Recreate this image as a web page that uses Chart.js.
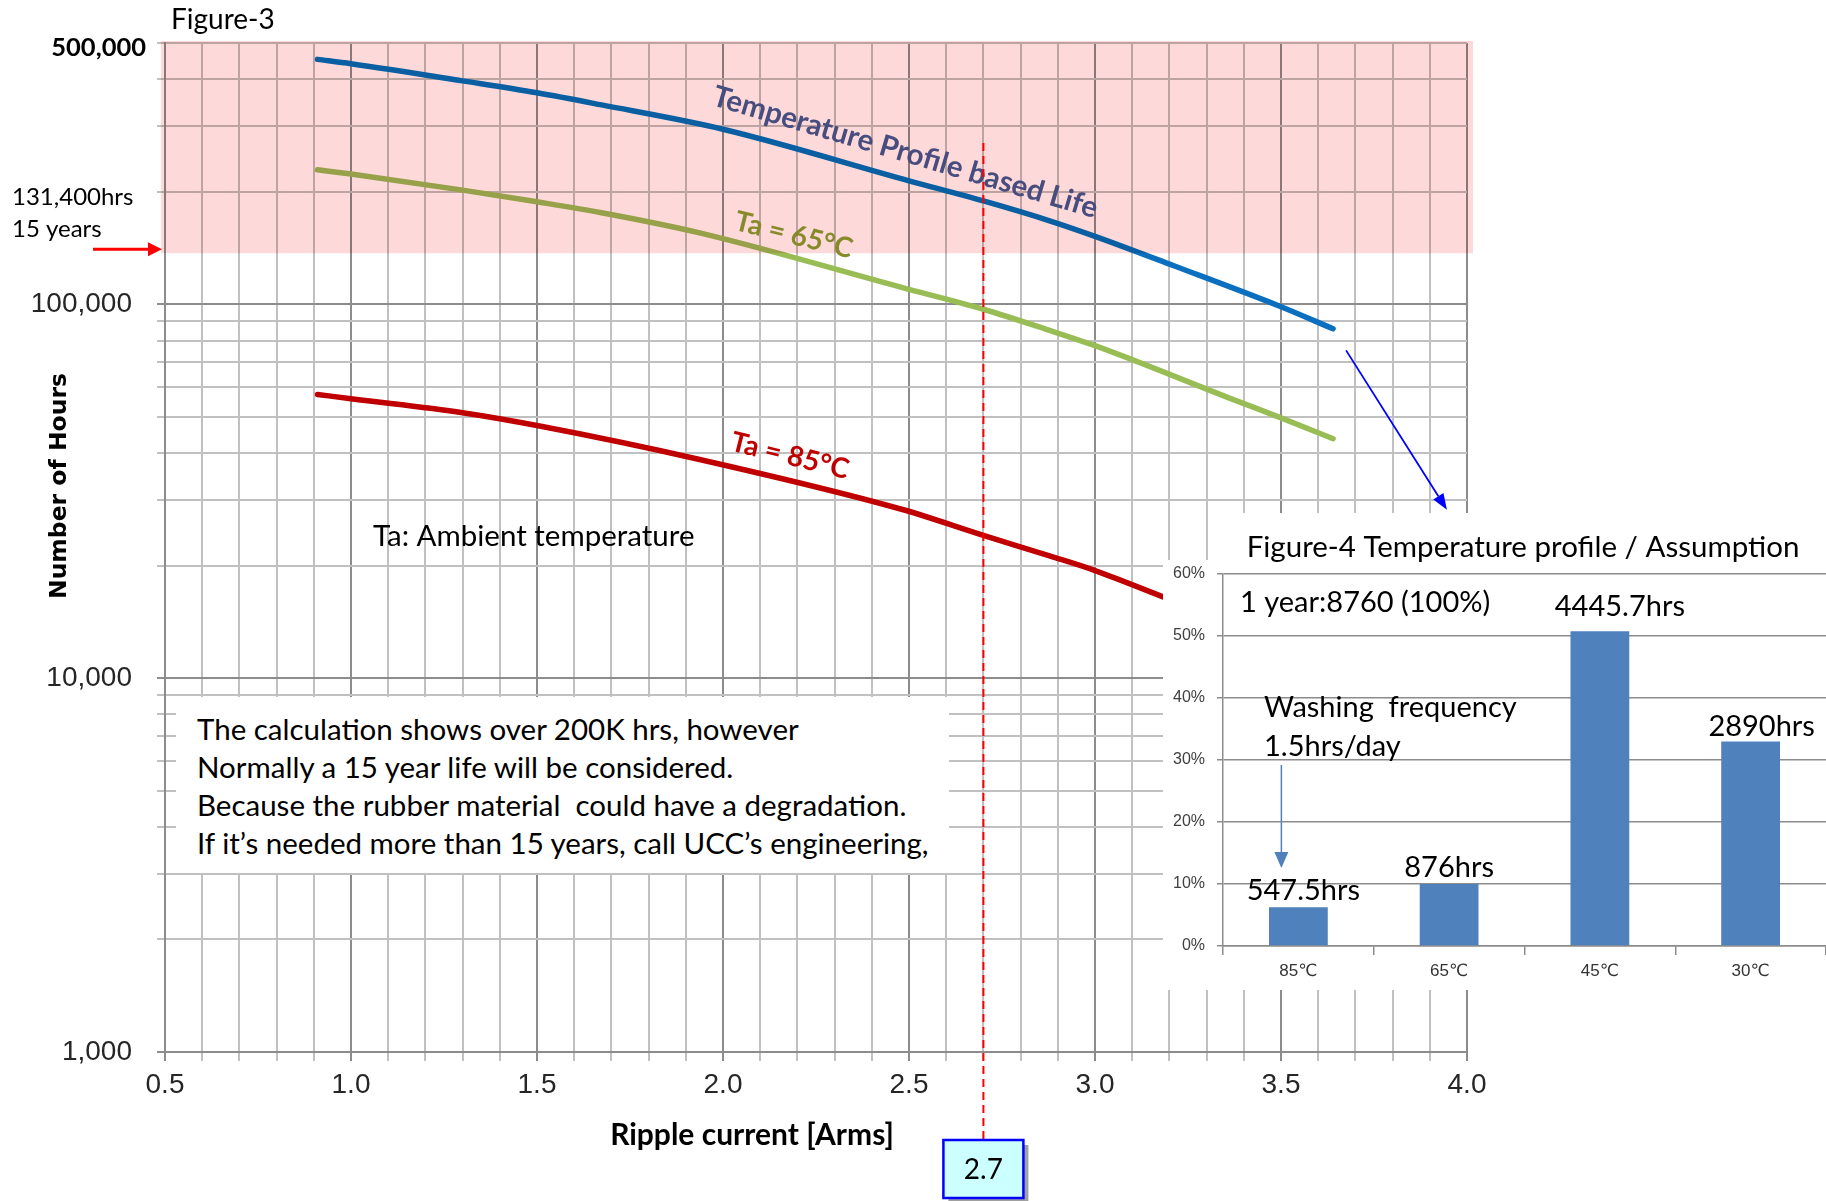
<!DOCTYPE html>
<html>
<head>
<meta charset="utf-8">
<script src="https://cdn.jsdelivr.net/npm/chart.js@4.4.1/dist/chart.umd.min.js"></script>
<style>
body { margin: 0; background: #fff; }
#wrap { position: relative; width: 1826px; height: 1201px; overflow: hidden; }
#main { position: absolute; left: 0; top: 0; }
#inset { position: absolute; left: 1163px; top: 513px; }
#note {
    position: absolute; left: 176px; top: 697px; width: 773px; height: 176px;
    box-sizing: border-box; padding: 13px 0 0 21px; background: #fff;
    font-family: Lato, sans-serif; font-size: 29.5px; line-height: 38px; color: #000;
    white-space: pre;
}
</style>
</head>
<body>
<div id="wrap">
<canvas id="main" width="1826" height="1201"></canvas>
<div id="note">The calculation shows over 200K hrs, however
Normally a 15 year life will be considered.
Because the rubber material  could have a degradation.
If it’s needed more than 15 years, call UCC’s engineering,</div>
<canvas id="inset" width="663" height="477"></canvas>
</div>
<script>
// Figure-3: life curves (ripple current [Arms] -> hours)
var rippleProfile = [0.91, 1.0, 1.3, 1.5, 1.67, 2.0, 2.5, 2.7, 2.88, 3.0, 3.21, 3.5, 3.64];
var hoursProfile = [452000, 440000, 396000, 368000, 342000, 294000, 214000, 189000, 167000, 152000, 127000, 98500, 86000];
var ripple65 = [0.91, 1.0, 1.3, 1.5, 1.67, 1.94, 2.48, 2.7, 2.88, 3.0, 3.37, 3.5, 3.64];
var hours65 = [229000, 223000, 202000, 188000, 176000, 155000, 111000, 97000, 85000, 77500, 55700, 49700, 43700];
var ripple85 = [0.91, 1.0, 1.3, 1.5, 1.94, 2.48, 2.7, 2.88, 3.0, 3.19];
var hours85 = [57400, 55900, 51300, 47400, 38400, 28300, 24100, 21200, 19400, 16400];

var yGridValues = [1000, 2000, 3000, 4000, 5000, 6000, 7000, 8000, 9000,
    10000, 20000, 30000, 40000, 50000, 60000, 70000, 80000, 90000,
    100000, 200000, 300000, 400000, 500000];
var yLabelValues = [1000, 10000, 100000];
var xLabels = ['0.5', '1.0', '1.5', '2.0', '2.5', '3.0', '3.5', '4.0'];

var lifeLimitText = ['131,400hrs', '15 years'];
var lifeBandBottom = 137000;
var checkRipple = 2.7;

// Figure-4: temperature profile
var tempCategories = ['85℃', '65℃', '45℃', '30℃'];
var tempHours = ['547.5hrs', '876hrs', '4445.7hrs', '2890hrs'];
var tempShare = [6.25, 10.0, 50.75, 33.0];

function pairs(xs, ys) {
    return xs.map(function (x, i) { return { x: x, y: ys[i] }; });
}

function isHalf(v) {
    return Math.abs(v * 2 - Math.round(v * 2)) < 1e-6;
}

function arrow(ctx, x1, y1, x2, y2, color, width, headLen, headWid) {
    var a = Math.atan2(y2 - y1, x2 - x1);
    ctx.save();
    ctx.strokeStyle = color;
    ctx.fillStyle = color;
    ctx.lineWidth = width;
    ctx.beginPath();
    ctx.moveTo(x1, y1);
    ctx.lineTo(x2 - headLen * Math.cos(a), y2 - headLen * Math.sin(a));
    ctx.stroke();
    ctx.translate(x2, y2);
    ctx.rotate(a);
    ctx.beginPath();
    ctx.moveTo(0, 0);
    ctx.lineTo(-headLen, -headWid / 2);
    ctx.lineTo(-headLen, headWid / 2);
    ctx.closePath();
    ctx.fill();
    ctx.restore();
}

function tiltedText(ctx, text, x, y, deg, font, color) {
    ctx.save();
    ctx.translate(x, y);
    ctx.rotate(deg * Math.PI / 180);
    ctx.font = font;
    ctx.fillStyle = color;
    ctx.textAlign = 'center';
    ctx.textBaseline = 'middle';
    ctx.fillText(text, 0, 0);
    ctx.restore();
}

var paperPlugin = {
    id: 'paper',
    beforeDraw: function (chart) {
        var ctx = chart.ctx;
        ctx.save();
        ctx.fillStyle = '#fff';
        ctx.fillRect(0, 0, chart.width, chart.height);
        ctx.restore();
    }
};

var notesPlugin = {
    id: 'notes',
    afterDatasetsDraw: function (chart) {
        var ctx = chart.ctx;
        var xs = chart.scales.x, ys = chart.scales.y, area = chart.chartArea;

        // pink "15 years" zone, laid over grid and curves
        var bandBot = ys.getPixelForValue(lifeBandBottom);
        ctx.save();
        ctx.globalCompositeOperation = 'multiply';
        ctx.fillStyle = '#fdd9d9';
        ctx.fillRect(area.left - 4, area.top - 2, area.right - area.left + 10, bandBot - area.top + 2);
        ctx.restore();

        // curve labels
        tiltedText(ctx, 'Temperature Profile based Life', xs.getPixelForValue(2.49), ys.getPixelForValue(255000),
            16.5, 'bold 29.5px Lato', '#474d7e');
        tiltedText(ctx, 'Ta = 65°C', xs.getPixelForValue(2.19), ys.getPixelForValue(153000),
            14, 'bold 28px Lato', '#878a2a');
        tiltedText(ctx, 'Ta = 85°C', xs.getPixelForValue(2.18), ys.getPixelForValue(39300),
            14, 'bold 28px Lato', '#c00000');

        ctx.save();
        ctx.font = '29.5px Lato';
        ctx.fillStyle = '#000';
        ctx.textBaseline = 'middle';
        ctx.fillText('Ta: Ambient temperature', xs.getPixelForValue(1.059), ys.getPixelForValue(23900));
        ctx.restore();

        // 2.7 A marker
        var mx = xs.getPixelForValue(checkRipple);
        var boxTop = area.bottom + 88;
        ctx.save();
        ctx.strokeStyle = '#ff0000';
        ctx.lineWidth = 2;
        ctx.setLineDash([8, 5]);
        ctx.beginPath();
        ctx.moveTo(mx, ys.getPixelForValue(270000));
        ctx.lineTo(mx, boxTop);
        ctx.stroke();
        ctx.setLineDash([]);
        ctx.fillStyle = '#a0a0a0';
        ctx.fillRect(mx - 35, boxTop + 5, 80, 58);
        ctx.fillStyle = '#ccffff';
        ctx.fillRect(mx - 40, boxTop, 80, 58);
        ctx.strokeStyle = '#0000ff';
        ctx.lineWidth = 2.5;
        ctx.strokeRect(mx - 40, boxTop, 80, 58);
        ctx.fillStyle = '#000';
        ctx.font = '28px Lato';
        ctx.textAlign = 'center';
        ctx.textBaseline = 'middle';
        ctx.fillText(String(checkRipple), mx, boxTop + 30);
        ctx.restore();

        // texts around the axes
        ctx.save();
        ctx.fillStyle = '#000';
        ctx.textBaseline = 'middle';
        ctx.font = '28px Lato';
        ctx.fillText('Figure-3', area.left + 6, 20);
        ctx.font = '24px Lato';
        ctx.fillText(lifeLimitText[0], 12, bandBot - 56);
        ctx.fillText(lifeLimitText[1], 12, bandBot - 24);
        ctx.font = 'bold 25.5px Lato';
        ctx.textAlign = 'right';
        ctx.fillText('500,000', area.left - 19, ys.getPixelForValue(500000) + 5);
        ctx.textAlign = 'center';
        ctx.font = 'bold 30px Lato';
        ctx.fillText('Ripple current [Arms]', area.left + 587, area.bottom + 83);
        ctx.translate(60, 486);
        ctx.rotate(-Math.PI / 2);
        ctx.font = 'bold 23.5px "DejaVu Sans"';
        ctx.fillText('Number of Hours', 0, 0);
        ctx.restore();

        arrow(ctx, 93, bandBot - 4, area.left - 3, bandBot - 4, '#ff0000', 3, 14, 14);
        arrow(ctx, xs.getPixelForValue(3.675), ys.getPixelForValue(75300),
            xs.getPixelForValue(3.946), ys.getPixelForValue(28200), '#0000ff', 1.8, 16, 12);
    }
};

var mainChart = new Chart(document.getElementById('main'), {
    type: 'line',
    data: {
        datasets: [{
            label: 'Temperature Profile based Life',
            data: pairs(rippleProfile, hoursProfile),
            borderColor: '#0a6fbf'
        }, {
            label: 'Ta = 65°C',
            data: pairs(ripple65, hours65),
            borderColor: '#98bd55'
        }, {
            label: 'Ta = 85°C',
            data: pairs(ripple85, hours85),
            borderColor: '#c00000'
        }]
    },
    options: {
        responsive: false,
        animation: false,
        layout: { padding: { top: 43, right: 359, left: 0, bottom: 0 } },
        elements: {
            point: { radius: 0 },
            line: { borderWidth: 5.5, tension: 0.4, cubicInterpolationMode: 'monotone', borderCapStyle: 'round', borderJoinStyle: 'round' }
        },
        plugins: {
            legend: { display: false },
            tooltip: { enabled: false }
        },
        scales: {
            x: {
                type: 'linear',
                min: 0.5,
                max: 4.0,
                afterFit: function (scale) { scale.height = 149; },
                ticks: {
                    stepSize: 0.1,
                    autoSkip: false,
                    maxRotation: 0,
                    padding: 7,
                    color: '#262626',
                    font: { family: 'Liberation Sans', size: 28 },
                    callback: function (value) {
                        var label = value.toFixed(1);
                        return isHalf(value) && xLabels.indexOf(label) >= 0 ? label : '';
                    }
                },
                grid: {
                    color: function (c) { return c.tick && isHalf(c.tick.value) ? '#8c8c8c' : '#c0c0c0'; },
                    lineWidth: 2,
                    tickLength: 9
                },
                border: { color: '#8c8c8c', width: 2 }
            },
            y: {
                type: 'logarithmic',
                min: 1000,
                max: 500000,
                afterFit: function (scale) { scale.width = 165; },
                afterBuildTicks: function (scale) {
                    scale.ticks = yGridValues.map(function (v) { return { value: v }; });
                },
                ticks: {
                    autoSkip: false,
                    padding: 25,
                    color: '#262626',
                    font: { family: 'Liberation Sans', size: 28 },
                    callback: function (value) {
                        return yLabelValues.indexOf(value) >= 0 ? value.toLocaleString('en-US') : '';
                    }
                },
                grid: {
                    color: function (c) {
                        var v = c.tick ? c.tick.value : 0;
                        return yLabelValues.indexOf(v) >= 0 ? '#8c8c8c' : '#c0c0c0';
                    },
                    lineWidth: 2,
                    tickLength: 8
                },
                border: { color: '#8c8c8c', width: 2 }
            }
        }
    },
    plugins: [paperPlugin, notesPlugin]
});

// Figure-4 inset
var insetPaper = {
    id: 'insetPaper',
    beforeDraw: function (chart) {
        var ctx = chart.ctx;
        ctx.save();
        ctx.fillStyle = '#fff';
        ctx.fillRect(0, 47, chart.width, chart.height - 47);
        ctx.fillRect(65, 0, chart.width - 65, 48);
        ctx.fillStyle = '#000';
        ctx.font = '29.5px Lato';
        ctx.textAlign = 'center';
        ctx.textBaseline = 'middle';
        ctx.fillText('Figure-4 Temperature profile / Assumption', 360, 34);
        ctx.restore();
    }
};

var insetNotes = {
    id: 'insetNotes',
    afterDatasetsDraw: function (chart) {
        var ctx = chart.ctx, area = chart.chartArea;
        var bars = chart.getDatasetMeta(0).data;
        var shift = [5, 0, 20, 11];
        var lift = [2, 2, 10, 0];
        ctx.save();
        ctx.fillStyle = '#000';
        ctx.font = '29px Lato';
        ctx.textAlign = 'center';
        ctx.textBaseline = 'bottom';
        bars.forEach(function (bar, i) {
            ctx.fillText(tempHours[i], bar.x + shift[i], bar.y - lift[i]);
        });
        ctx.textAlign = 'left';
        ctx.textBaseline = 'middle';
        ctx.font = '29px Lato';
        ctx.fillText('1 year:8760 (100%)', area.left + 17, area.top + 29);
        ctx.fillText('Washing  frequency', area.left + 41, area.top + 134);
        ctx.fillText('1.5hrs/day', area.left + 41, area.top + 173);
        ctx.restore();
        arrow(ctx, bars[0].x - 17, area.top + 191, bars[0].x - 17, area.top + 294, '#4f81bd', 1.5, 16, 14);
    }
};

var insetChart = new Chart(document.getElementById('inset'), {
    type: 'bar',
    data: {
        labels: tempCategories,
        datasets: [{
            data: tempShare,
            backgroundColor: '#4f81bd',
            barPercentage: 0.39,
            categoryPercentage: 1
        }]
    },
    options: {
        responsive: false,
        animation: false,
        layout: { padding: { top: 61, right: 0, left: 0, bottom: 0 } },
        plugins: {
            legend: { display: false },
            tooltip: { enabled: false }
        },
        scales: {
            x: {
                afterFit: function (scale) { scale.height = 44; },
                grid: { drawOnChartArea: false, tickLength: 9, color: '#8c8c8c', lineWidth: 1.5 },
                border: { color: '#8c8c8c', width: 1.5 },
                ticks: {
                    padding: 6,
                    color: '#333',
                    font: { family: "'Liberation Sans', 'DejaVu Sans'", size: 17 }
                }
            },
            y: {
                min: 0,
                max: 60,
                afterFit: function (scale) { scale.width = 60; },
                ticks: {
                    stepSize: 10,
                    padding: 12,
                    color: '#404040',
                    font: { family: 'Liberation Sans', size: 16 },
                    callback: function (value) { return value + '%'; }
                },
                grid: { color: '#8c8c8c', lineWidth: 1.5, tickLength: 6 },
                border: { color: '#8c8c8c', width: 1.5 }
            }
        }
    },
    plugins: [insetPaper, insetNotes]
});
</script>
</body>
</html>
